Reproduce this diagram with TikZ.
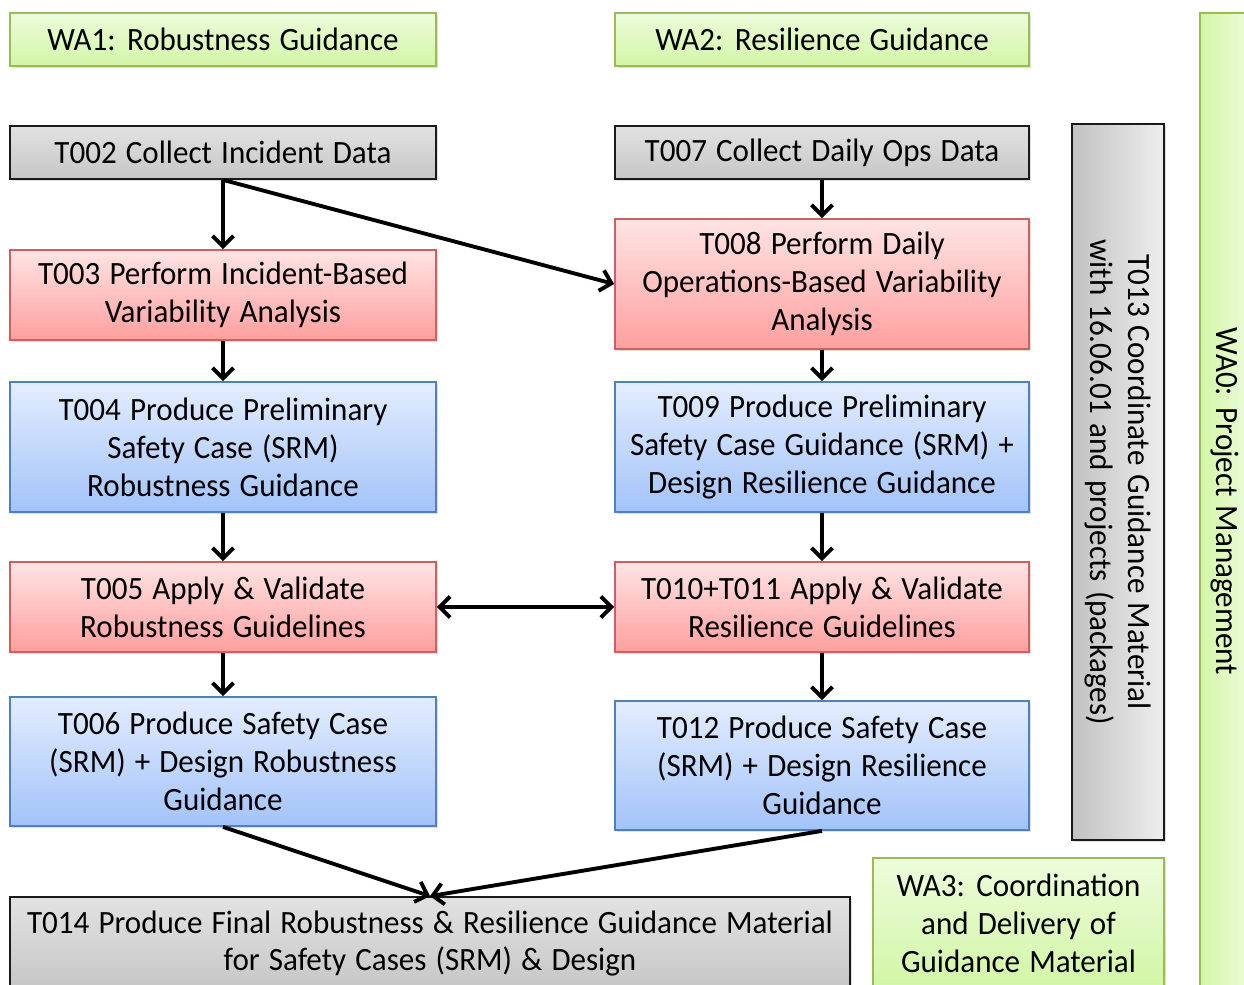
\documentclass[tikz,border=0pt]{standalone}
\usepackage{fontspec}
\setmainfont{Carlito}[FakeStretch=0.955, WordSpace=1.3]
\usepackage{tikz}
\usetikzlibrary{arrows.meta, shadings, shadows, positioning}

\definecolor{grayedge}{HTML}{1A1A1A}
\definecolor{redtop}{HTML}{FFE4E4}
\definecolor{redbot}{HTML}{FF9F9F}
\definecolor{rededge}{HTML}{D0605C}
\definecolor{bluetop}{HTML}{E3EDFF}
\definecolor{bluebot}{HTML}{A3C3F9}
\definecolor{blueedge}{HTML}{4F81BD}
\definecolor{greentop}{HTML}{EDFCDB}
\definecolor{greenbot}{HTML}{D2F6A6}
\definecolor{greenedge}{HTML}{9BBB59}
\definecolor{graytop}{HTML}{E2E2E2}
\definecolor{graybot}{HTML}{C6C6C6}
\definecolor{sideleft}{HTML}{C2C2C2}
\definecolor{sideright}{HTML}{EEEEEE}

\tikzset{
    box/.style={draw, line width=1pt, align=center, inner sep=2pt,
        font=\fontsize{18.5}{21.6}\selectfont,
        drop shadow={opacity=0.25, shadow xshift=1.2pt, shadow yshift=-1.2pt}},
    graybox/.style={box, draw=grayedge, top color=graytop, bottom color=graybot},
    redbox/.style={box, draw=rededge, top color=redtop, bottom color=redbot},
    bluebox/.style={box, draw=blueedge, top color=bluetop, bottom color=bluebot},
    wabox/.style={box, draw=greenedge, top color=greentop, bottom color=greenbot},
    flow/.style={line width=2.2pt, -{Straight Barb[length=6pt, width=12pt]}},
}

\begin{document}
\begin{tikzpicture}
    \useasboundingbox (0,0) rectangle (24.88,-19.68);

    % Work areas
    \node[wabox, minimum width=8.52cm, minimum height=1.06cm] (wa1) at (4.46,-0.79) {WA1: Robustness Guidance};
    \node[wabox, minimum width=8.28cm, minimum height=1.06cm] (wa2) at (16.44,-0.79) {WA2: Resilience Guidance};
    \node[wabox, minimum width=5.82cm, minimum height=2.60cm] (wa3) at (20.37,-18.46) {WA3: Coordination\\and Delivery of\\Guidance Material};
    \node[wabox, left color=greenbot, right color=greentop, minimum width=1.0cm, minimum height=19.54cm] (wa0) at (24.5,-10.03) {};
    \node[rotate=-90, font=\fontsize{18.5}{21.6}\selectfont] (wa0text) at (wa0.center) {WA0: Project Management};

    % Robustness column
    \node[graybox, minimum width=8.52cm, minimum height=1.06cm] (t002) at (4.46,-3.05) {T002 Collect Incident Data};
    \node[redbox, minimum width=8.52cm, minimum height=1.80cm] (t003) at (4.46,-5.90) {T003 Perform Incident-Based\\Variability Analysis};
    \node[bluebox, minimum width=8.52cm, minimum height=2.60cm] (t004) at (4.46,-8.94) {T004 Produce Preliminary\\Safety Case (SRM)\\Robustness Guidance};
    \node[redbox, minimum width=8.52cm, minimum height=1.80cm] (t005) at (4.46,-12.14) {T005 Apply \& Validate\\Robustness Guidelines};
    \node[bluebox, minimum width=8.52cm, minimum height=2.58cm] (t006) at (4.46,-15.23) {T006 Produce Safety Case\\(SRM) + Design Robustness\\Guidance};

    % Resilience column
    \node[graybox, minimum width=8.28cm, minimum height=1.06cm] (t007) at (16.44,-3.05) {T007 Collect Daily Ops Data};
    \node[redbox, minimum width=8.28cm, minimum height=2.60cm] (t008) at (16.44,-5.68) {T008 Perform Daily\\Operations-Based Variability\\Analysis};
    \node[bluebox, minimum width=8.28cm, minimum height=2.60cm] (t009) at (16.44,-8.94) {T009 Produce Preliminary\\Safety Case Guidance (SRM) +\\Design Resilience Guidance};
    \node[redbox, minimum width=8.28cm, minimum height=1.80cm] (t010) at (16.44,-12.14) {T010+T011 Apply \& Validate\\Resilience Guidelines};
    \node[bluebox, minimum width=8.28cm, minimum height=2.58cm] (t012) at (16.44,-15.31) {T012 Produce Safety Case\\(SRM) + Design Resilience\\Guidance};

    % Coordination and final output
    \node[box, draw=grayedge, left color=sideleft, right color=sideright, minimum width=1.84cm, minimum height=14.32cm] (t013) at (22.36,-9.64) {};
    \node[rotate=-90, align=center, font=\fontsize{18.5}{21.6}\selectfont] (t013text) at (t013.center) {T013 Coordinate Guidance Material\\with 16.06.01 and projects (packages)};
    \node[graybox, minimum width=16.8cm, minimum height=1.86cm] (t014) at (8.6,-18.87) {T014 Produce Final Robustness \& Resilience Guidance Material\\for Safety Cases (SRM) \& Design};

    % Flow
    \draw[flow] (t002) -- (t003);
    \draw[flow] (t002.south) -- (t008.west);
    \draw[flow] (t007) -- (t008);
    \draw[flow] (t003) -- (t004);
    \draw[flow] (t008) -- (t009);
    \draw[flow] (t004) -- (t005);
    \draw[flow] (t009) -- (t010);
    \draw[flow, {Straight Barb[length=6pt, width=12pt]}-{Straight Barb[length=6pt, width=12pt]}] (t005) -- (t010);
    \draw[flow] (t005) -- (t006);
    \draw[flow] (t010) -- (t012);
    \draw[flow] (t006.south) -- (t014.north);
    \draw[flow] (t012.south) -- (t014.north);
\end{tikzpicture}
\end{document}
